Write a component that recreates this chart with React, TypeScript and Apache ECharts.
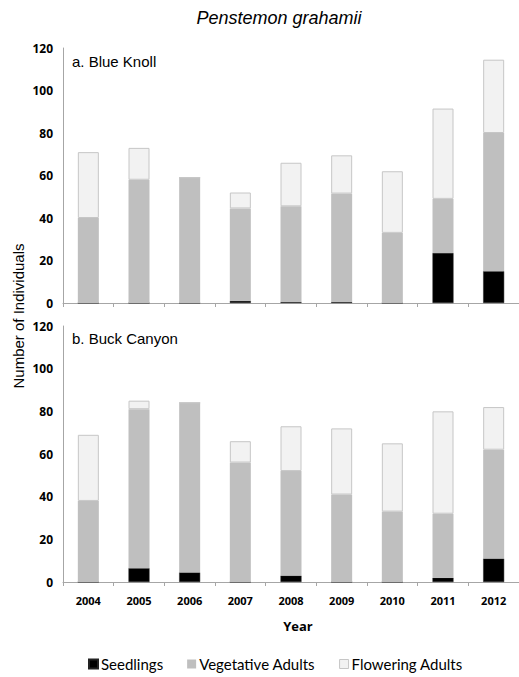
import React, { useEffect, useRef } from "react";
import * as echarts from "echarts";

const years = ["2004", "2005", "2006", "2007", "2008", "2009", "2010", "2011", "2012"];
const seriesNames = ["Seedlings", "Vegetative Adults", "Flowering Adults"];

// a. Blue Knoll
const blueSeedlings = [0, 0, 0, 1, 0.5, 0.5, 0, 23.5, 15];
const blueVegetative = [40, 58, 59, 43.5, 45, 51, 33, 25.5, 65];
const blueFlowering = [31, 15, 0, 7.5, 20.5, 18, 29, 42.5, 34.5];

// b. Buck Canyon
const buckSeedlings = [0, 6.5, 4.5, 0, 3, 0, 0, 2, 11];
const buckVegetative = [38, 74.5, 79.5, 56, 49, 41, 33, 30, 51];
const buckFlowering = [31, 4, 0, 10, 21, 31, 32, 48, 20];

const yTicks = { min: 0, max: 120, interval: 20 };

const colors = {
  seed: "#000000",
  veg: "#bfbfbf",
  flow: "#f2f2f2",
  flowBorder: "#c6c6c6",
  axis: "#a6a6a6",
};

export default function App() {
  const ref = useRef<HTMLDivElement>(null);
  useEffect(() => {
    if (!ref.current) return;
    const chart = echarts.init(ref.current, null, { renderer: "svg" });
    const grids = [
      { left: 63, top: 48, width: 457, height: 255 },
      { left: 63, top: 326, width: 457, height: 256 },
    ];
    const mkX = (i: number) => ({
      type: "category",
      gridIndex: i,
      data: years,
      boundaryGap: true,
      axisLine: { show: true, lineStyle: { color: colors.axis, width: 1 } },
      axisTick: { show: true, alignWithLabel: false, length: 4, lineStyle: { color: colors.axis } },
      axisLabel: {
        show: i === 1,
        fontFamily: "Open Sans",
        fontWeight: "bold",
        fontSize: 11,
        color: "#000",
        margin: 13,
      },
    });
    const mkY = (i: number) => ({
      type: "value",
      gridIndex: i,
      min: yTicks.min,
      max: yTicks.max,
      interval: yTicks.interval,
      splitLine: { show: false },
      axisLine: { show: true, lineStyle: { color: colors.axis, width: 1 } },
      axisTick: { show: false },
      axisLabel: {
        fontFamily: "Open Sans",
        fontWeight: "bold",
        fontSize: 12,
        color: "#000",
        margin: 10,
      },
    });
    const mkSeries = (i: number, data: number[][]) =>
      data.map((d, k) => ({
        name: seriesNames[k],
        type: "bar",
        xAxisIndex: i,
        yAxisIndex: i,
        stack: "s" + i,
        barWidth: 21,
        data: d,
        itemStyle:
          k === 0
            ? { color: colors.seed, borderColor: "#222", borderWidth: 0.5 }
            : k === 1
            ? { color: colors.veg }
            : { color: colors.flow, borderColor: colors.flowBorder, borderWidth: 1 },
      }));
    chart.setOption({
      animation: false,
      backgroundColor: "#ffffff",
      graphic: [
        {
          type: "text",
          x: 279,
          y: 18,
          style: {
            text: "Penstemon grahamii",
            font: "italic 18px 'Liberation Sans'",
            fill: "#000",
            textAlign: "center",
            textVerticalAlign: "middle",
          },
        },
        {
          type: "text",
          left: 72,
          top: 54,
          style: { text: "a. Blue Knoll", font: "15px 'Liberation Sans'", fill: "#000" },
        },
        {
          type: "text",
          left: 72,
          top: 331,
          style: { text: "b. Buck Canyon", font: "15px 'Liberation Sans'", fill: "#000" },
        },
        {
          type: "text",
          x: 18,
          y: 316,
          rotation: Math.PI / 2,
          style: {
            text: "Number of Individuals",
            font: "15px 'Liberation Sans'",
            fill: "#000",
            textAlign: "center",
            textVerticalAlign: "middle",
          },
        },
        {
          type: "text",
          x: 298,
          y: 626,
          style: {
            text: "Year",
            font: "bold 13px 'Open Sans'",
            fill: "#000",
            textAlign: "center",
            textVerticalAlign: "middle",
          },
        },
      ],
      legend: {
        data: [
          { name: "Seedlings", itemStyle: { color: colors.seed } },
          { name: "Vegetative Adults", itemStyle: { color: colors.veg } },
          { name: "Flowering Adults", itemStyle: { color: colors.flow, borderColor: colors.flowBorder, borderWidth: 1 } },
        ],
        left: 88,
        top: 656,
        padding: 0,
        icon: "rect",
        itemWidth: 9,
        itemHeight: 9,
        itemGap: 24,
        textStyle: { fontFamily: "Lato", fontSize: 15, lineHeight: 16, color: "#000", padding: [0, 0, 0, -2] },
      },
      grid: grids,
      xAxis: [mkX(0), mkX(1)],
      yAxis: [mkY(0), mkY(1)],
      series: [
        ...mkSeries(0, [blueSeedlings, blueVegetative, blueFlowering]),
        ...mkSeries(1, [buckSeedlings, buckVegetative, buckFlowering]),
      ],
    });
    return () => chart.dispose();
  }, []);
  return <div ref={ref} style={{ width: 519, height: 677, position: "absolute", left: 0, top: 0 }} />;
}
